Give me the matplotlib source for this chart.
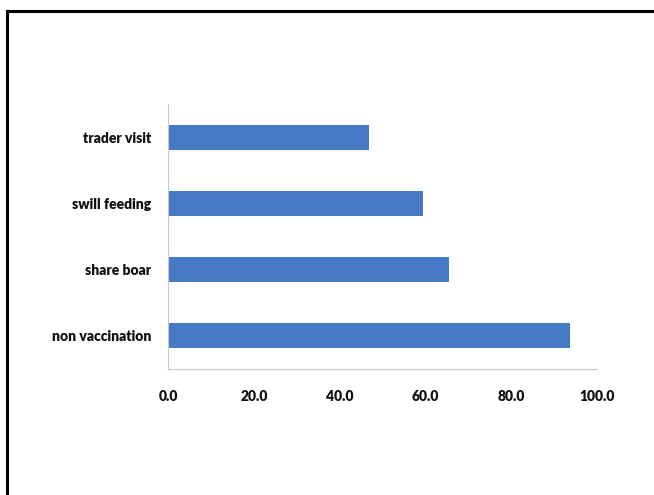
import matplotlib.pyplot as plt
from matplotlib.lines import Line2D

categories = ["non vaccination", "share boar", "swill feeding", "trader visit"]
values = [93.7, 65.5, 59.4, 46.9]
xticks = [0, 20, 40, 60, 80, 100]

plt.rcParams['font.family'] = ['Lato', 'DejaVu Sans']

fig = plt.figure(figsize=(6.54, 4.95), dpi=100)
ax = fig.add_axes([0.257, 0.2545, 0.656, 0.535])

ax.barh(range(len(categories)), values, height=0.38, color='#467ac6')

ax.set_xlim(0, 100)
ax.set_ylim(-0.5, 3.5)
ax.set_yticks(range(len(categories)))
ax.set_yticklabels(categories, fontsize=10, fontweight='heavy', color='#111111')
ax.set_xticks(xticks)
ax.set_xticklabels(["%.1f" % t for t in xticks], fontsize=10, fontweight='heavy', color='#111111')
ax.tick_params(axis='both', length=0)
ax.tick_params(axis='x', pad=15)
ax.tick_params(axis='y', pad=12)

for s in ['top', 'right']:
    ax.spines[s].set_visible(False)
ax.spines['left'].set_color('#c8c8c8')
ax.spines['bottom'].set_color('#c8c8c8')
ax.spines['left'].set_linewidth(0.8)
ax.spines['bottom'].set_linewidth(0.8)

# slide frame (left and top edges)
W, H = 654, 495
fig.add_artist(Line2D([7 / W, 7 / W], [0, 1 - 11 / H], color='black', lw=2.2))
fig.add_artist(Line2D([7 / W, 1], [1 - 11 / H, 1 - 11 / H], color='black', lw=2.2))

plt.savefig("out.png", dpi=100)
